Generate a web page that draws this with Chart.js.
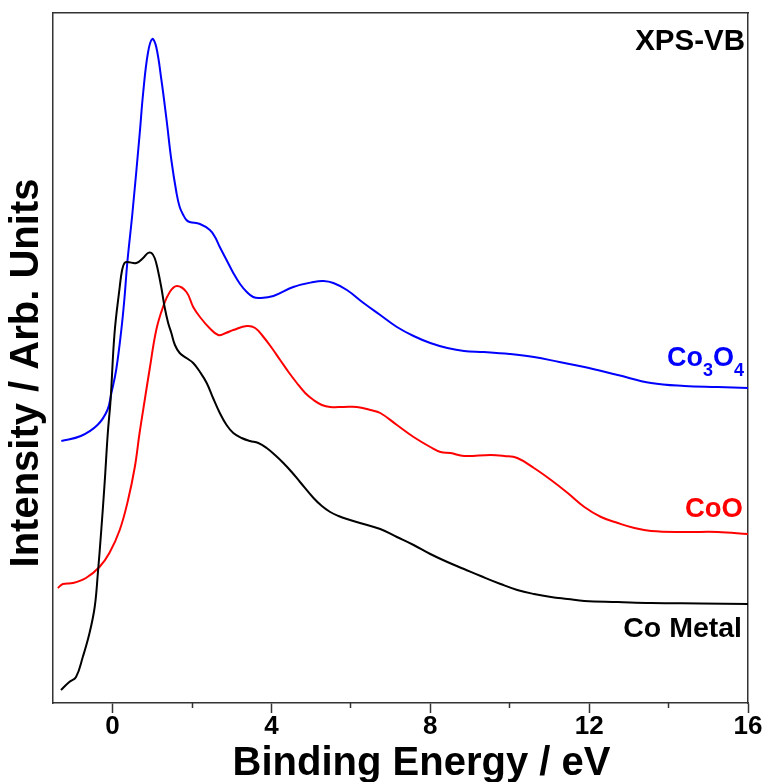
<!DOCTYPE html>
<html>
<head>
<meta charset="utf-8">
<title>XPS-VB</title>
<script src="https://cdn.jsdelivr.net/npm/chart.js@4.4.1/dist/chart.umd.min.js"></script>
<style>
  body { margin: 0; background: #fff; }
  #wrap { width: 768px; height: 782px; }
</style>
</head>
<body>
<div id="wrap"><canvas id="myChart"></canvas></div>
<script>
// valori: energia di legame (eV) e intensita' (unita' arbitrarie)
const coMetalE = [-1.30,-1.09,-0.92,-0.75,-0.58,-0.45,-0.37,-0.29,-0.20,-0.12,-0.05,0.05,0.18,0.24,0.30,0.37,0.60,0.77,0.89,0.98,1.06,1.14,1.23,1.31,1.40,1.48,1.57,1.69,1.86,2.03,2.2,2.37,2.53,2.70,2.87,3.04,3.25,3.46,3.67,3.88,4.09,4.30,4.51,4.72,5.06,5.27,5.48,5.69,5.90,6.32,6.74,7.16,7.58,8.0,8.43,8.85,9.27,9.77,10.19,10.61,11.04,11.46,11.88,12.72,13.56,14.8,16];
const coMetalI = [13,21,26,46,70,96,130,170,220,270,303,370,416,433,440,441,440,445,450,450,445,433,415,396,380,370,358,350,345,340,331,320,305,290,278,270,265,262,260,255,248,240,231,221,205,197,191,187,184,179,174,166,158,149,141,134,127,119,113,109,106,104,102,101,100,99.5,99];

const coOE = [-1.38,-1.25,-1.0,-0.67,-0.33,-0.08,0.18,0.39,0.56,0.68,0.81,0.93,1.10,1.27,1.44,1.62,1.86,2.03,2.2,2.44,2.66,2.85,3.04,3.38,3.59,3.80,4.01,4.22,4.43,4.64,4.85,5.06,5.27,5.48,5.82,6.15,6.49,6.74,7.16,7.58,8.0,8.26,8.51,8.85,9.52,9.86,10.19,10.61,11.04,11.46,11.88,12.3,12.72,13.14,13.56,14.4,15.24,16];
const coOI = [115,119,120,125,136,150,173,203,236,270,303,333,373,396,411,417,411,396,386,375,368,370,373,377,375,366,355,343,331,320,310,303,298,296,296,296,293,290,278,266,256,251,250,247,248,247,245,235,223,210,196,186,180,175,172,171,171,169];

const co3o4E = [-1.29,-0.8,-0.38,-0.13,-0.03,0.09,0.22,0.30,0.37,0.50,0.68,0.77,0.89,1.0,1.10,1.23,1.36,1.48,1.61,1.69,1.78,1.86,1.94,2.2,2.45,2.58,2.70,2.87,3.04,3.21,3.38,3.54,3.71,4.05,4.55,5.06,5.31,5.56,5.90,6.32,6.74,7.16,7.58,8.0,8.43,8.85,9.35,10.0,10.61,11.25,11.88,12.72,13.56,14.4,15.24,16];
const co3o4I = [262,267,278,293,310,333,373,405,440,490,568,610,650,664,656,623,583,543,510,496,488,483,481,479,473,466,456,443,430,419,411,406,405,407,416,421,422,420,413,400,388,376,367,360,355,352,351,349,346,341,336,328,320,317,316,315];

const xMajorTicks = [0, 4, 8, 12, 16];
const xMinorTicks = [2, 6, 10, 14];
const xMin = -1.5, xMax = 16;
const yMin = 0, yMax = 690;

const FONT = "'Liberation Sans', Arial, sans-serif";
const frameColor = '#333';

function toPoints(xs, ys) {
  return xs.map((x, i) => ({x: x, y: ys[i]}));
}

// titoli degli assi ed etichette delle curve
const labelsPlugin = {
  id: 'curveLabels',
  afterDraw(chart) {
    const ctx = chart.ctx;
    const area = chart.chartArea;
    const r = area.right - 4;
    ctx.save();
    ctx.textAlign = 'left';
    ctx.textBaseline = 'alphabetic';

    function runs(parts, right, base) {
      let w = 0;
      parts.forEach(p => { ctx.font = 'bold ' + p.size + 'px ' + FONT; w += ctx.measureText(p.t).width; });
      let x = right - w;
      parts.forEach(p => {
        ctx.font = 'bold ' + p.size + 'px ' + FONT;
        ctx.fillStyle = p.c;
        ctx.fillText(p.t, x, base + (p.sub ? 10 : 0));
        x += ctx.measureText(p.t).width;
      });
    }

    runs([{t: 'XPS-VB', size: 29.5, c: '#000'}], r + 1, area.top + 37);
    runs([
      {t: 'Co', size: 27, c: '#0000ff'},
      {t: '3', size: 18, c: '#0000ff', sub: true},
      {t: 'O', size: 27, c: '#0000ff'},
      {t: '4', size: 18, c: '#0000ff', sub: true}
    ], r, area.top + 353);
    runs([{t: 'CoO', size: 27.5, c: '#ff0000'}], r - 1, area.top + 504);
    runs([{t: 'Co Metal', size: 28.5, c: '#000'}], r - 2, area.top + 624);

    // titoli degli assi
    ctx.fillStyle = '#000';
    ctx.font = 'bold 40px ' + FONT;
    ctx.textAlign = 'center';
    ctx.textBaseline = 'middle';
    ctx.fillText('Binding Energy / eV', (area.left + area.right) / 2 + 21, chart.height - 18);
    ctx.translate(27, (area.top + area.bottom) / 2 + 15);
    ctx.rotate(-Math.PI / 2);
    ctx.fillText('Intensity / Arb. Units', 0, 0);
    ctx.restore();
  }
};

const lineStyle = { borderWidth: 2, pointRadius: 0, tension: 0.4, xAxisID: 'x', yAxisID: 'y' };

const data = {
  datasets: [
    Object.assign({ label: 'Co Metal', data: toPoints(coMetalE, coMetalI), borderColor: '#000000' }, lineStyle),
    Object.assign({ label: 'CoO', data: toPoints(coOE, coOI), borderColor: '#ff0000' }, lineStyle),
    Object.assign({ label: 'Co3O4', data: toPoints(co3o4E, co3o4I), borderColor: '#0000ff' }, lineStyle)
  ]
};

const hiddenGrid = {display: true, drawOnChartArea: false, drawTicks: false, color: frameColor};
const frameBorder = {display: true, color: frameColor, width: 1.5};

const config = {
  type: 'line',
  data: data,
  plugins: [labelsPlugin],
  options: {
    responsive: true,
    maintainAspectRatio: false,
    animation: false,
    layout: { padding: { top: 13, right: 20, left: 0, bottom: 0 } },
    plugins: {
      legend: { display: false },
      tooltip: { enabled: false }
    },
    scales: {
      x: {
        type: 'linear',
        position: 'bottom',
        weight: 0,
        min: xMin, max: xMax,
        afterBuildTicks: (s) => { s.ticks = xMajorTicks.map(v => ({value: v})); },
        afterFit: (s) => { s.height = 79; },
        grid: { display: true, drawOnChartArea: false, drawTicks: true, tickLength: 10, tickWidth: 1.5, tickColor: frameColor },
        border: frameBorder,
        ticks: {
          color: '#000',
          padding: 1,
          maxRotation: 0,
          autoSkip: false,
          font: { family: FONT, size: 26, weight: 'bold', lineHeight: 1 },
          callback: (v) => String(v)
        }
      },
      xMinor: {
        type: 'linear',
        position: 'bottom',
        weight: -1,
        min: xMin, max: xMax,
        afterBuildTicks: (s) => { s.ticks = xMinorTicks.map(v => ({value: v})); },
        afterFit: (s) => { s.height = 0; },
        grid: { display: true, drawOnChartArea: false, drawTicks: true, tickLength: 5, tickWidth: 1.5, tickColor: frameColor },
        border: { display: false },
        ticks: { display: false }
      },
      xTop: {
        type: 'linear',
        position: 'top',
        min: xMin, max: xMax,
        afterFit: (s) => { s.height = 0; },
        grid: hiddenGrid,
        border: frameBorder,
        ticks: { display: false }
      },
      y: {
        type: 'linear',
        position: 'left',
        min: yMin, max: yMax,
        afterFit: (s) => { s.width = 53; },
        grid: hiddenGrid,
        border: frameBorder,
        ticks: { display: false }
      },
      yRight: {
        type: 'linear',
        position: 'right',
        min: yMin, max: yMax,
        afterFit: (s) => { s.width = 0; },
        grid: hiddenGrid,
        border: frameBorder,
        ticks: { display: false }
      }
    }
  }
};

const myChart = new Chart(document.getElementById('myChart'), config);
</script>
</body>
</html>
